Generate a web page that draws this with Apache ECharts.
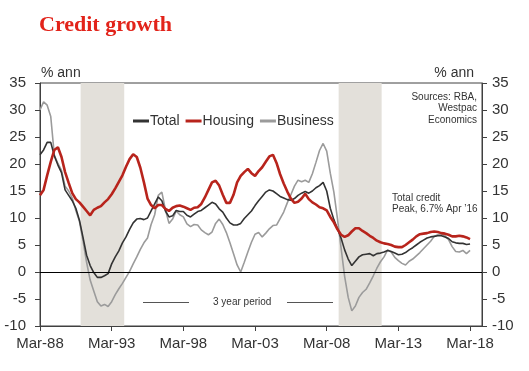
<!DOCTYPE html>
<html>
<head>
<meta charset="utf-8">
<script src="https://cdn.jsdelivr.net/npm/echarts@6/dist/echarts.min.js"></script>
<style>
html,body{margin:0;padding:0;background:#fff;}
#chart{width:529px;height:371px;}
</style>
</head>
<body>
<div id="chart"></div>
<script>
// Quarterly observations starting Mar-88 (month index 0 = Mar 1988)
const tickLabels = ['Mar-88','Mar-93','Mar-98','Mar-03','Mar-08','Mar-13','Mar-18'];
const tickMonths = [0,60,120,180,240,300,360];

const total = [21.7,22.6,24,24,21.5,19.8,18.4,15.2,14.2,13.2,11.8,9.6,6.4,3.1,1.2,-0.1,-1,-1,-0.7,-0.3,
1.5,2.8,3.9,5.4,6.5,7.9,9.1,9.8,9.9,9.7,10,11.3,12.6,13.9,13.2,11.3,10.2,10.4,11.4,11.2,
11.2,10.5,10.2,10.7,11.2,11.4,11.9,12.4,12.9,12.6,11.7,11.1,10,9.1,8.7,8.7,9,9.9,10.6,11.3,
12.3,13.2,14,14.8,15.2,15,14.5,14,13.7,13.4,13.3,13.6,14.2,14.6,14.9,14.6,15,15.6,16,16.6,
15,11.8,9.7,8,6.3,4.1,2.4,1.2,2,2.8,3.2,3.3,3.4,3,3.4,3.5,3.7,4,3.8,3.5,
3.2,3.3,3.6,4.1,4.5,5,5.5,5.9,6.3,6.5,6.6,6.7,6.7,6.5,6.2,5.6,5.4,5.3,5.3,5.1,5.2];

const housing = [14.2,15.2,17.9,20.4,22.6,23.1,21.3,18.5,16.5,14.6,13.5,12.9,12.1,11.3,10.5,11.5,11.9,12.2,12.9,13.5,
14.4,15.5,16.7,17.9,19.5,20.9,21.8,21.3,19.3,16.6,13.6,12.4,11.8,12.4,12.4,11.7,11.3,11.9,12.2,12.3,
12.1,11.8,11.5,11.9,12,12.6,13.8,15.2,16.6,16.9,16,14.3,12.8,12.8,14.3,16.6,17.8,18.5,19.1,18.3,
17.8,18.7,19.4,20.4,21.4,21.7,20.2,18.1,16.4,14.9,13.6,12.8,13,13.6,14.5,13.5,12.9,12.5,12,11.8,
11.4,10.2,9.2,7.9,6.9,6.5,6.8,7.5,8.1,8.1,7.6,7.2,6.7,6.3,5.8,5.5,5.3,5.2,5,4.7,
4.6,4.6,5,5.5,6,6.6,7,7.1,7.2,7.4,7.5,7.4,7.2,7.1,6.9,6.6,6.6,6.7,6.6,6.4,6.1];

const business = [30,31.5,30.9,28.8,21.6,20.1,18.8,15.9,15,13.7,11.4,9.4,5.8,1.8,-1.5,-3.5,-5.5,-6.3,-6,-6.4,
-5.5,-4.2,-3.1,-2.1,-1,0.1,1.5,2.8,4.2,5.4,6.3,8.8,10.6,14.2,14.8,11.5,9,9.8,11.3,10.6,
10.2,8.9,8.4,8.8,8.7,7.8,7.3,6.9,7.4,9,9.8,8.8,7.3,5.4,3.4,1.3,0,1.8,3.7,5.5,
7,7.3,6.5,7.2,8,8.6,8.7,9.9,11.1,12.8,14.3,15.9,17,16.7,17,16.6,18.2,20.3,22.5,23.8,
22.4,18.3,14.8,9.9,4.5,-0.8,-4.7,-7.2,-6.3,-4.7,-3.8,-3.2,-2,-0.7,0.7,1.9,2.8,4.1,3.7,2.7,
2.1,1.6,1.3,2,2.4,3,3.6,4.3,5,5.7,6.6,6.9,7,6.7,6,4.7,3.8,3.7,4,3.4,4];

// Shaded 3-year periods (month index from Mar-88)
const shadedPeriods = [[34, 70.5], [250, 286]];

const months = total.map((_, i) => i * 3);
const pair = arr => arr.map((v, i) => [months[i], v]);

const FONT = '"Liberation Sans", Arial, sans-serif';
const AX = '#404040';
const TXT = '#333333';

const chart = echarts.init(document.getElementById('chart'));

const yAxisBase = {
  type: 'value', min: -10, max: 35, interval: 5,
  axisLine: {show: true, lineStyle: {color: AX, width: 1}},
  axisTick: {show: true, length: 5, lineStyle: {color: AX}},
  splitLine: {show: false},
  axisLabel: {fontSize: 15, color: TXT, fontFamily: FONT}
};

chart.setOption({
  animation: false,
  grid: {left: 40, right: 47, top: 83, bottom: 45, show: true, borderColor: AX, borderWidth: 1, backgroundColor: 'transparent'},
  legend: {
    data: ['Total', 'Housing', 'Business'],
    left: 128, top: 109,
    icon: 'rect', itemWidth: 16, itemHeight: 3, itemGap: 6,
    textStyle: {fontSize: 14, color: TXT, fontFamily: FONT, padding: [0, 0, 0, -4]}
  },
  xAxis: {
    type: 'value', min: 0, max: 370, interval: 60,
    axisLine: {show: true, onZero: false, lineStyle: {color: AX}},
    axisTick: {show: true, length: 5, lineStyle: {color: AX}, customValues: tickMonths},
    splitLine: {show: false},
    axisLabel: {
      fontSize: 15, color: TXT, fontFamily: FONT, margin: 10,
      customValues: tickMonths,
      formatter: v => { const i = tickMonths.indexOf(v); return i >= 0 ? tickLabels[i] : ''; }
    }
  },
  yAxis: [
    Object.assign({}, yAxisBase, {position: 'left', axisLabel: Object.assign({}, yAxisBase.axisLabel, {margin: 14})}),
    Object.assign({}, yAxisBase, {position: 'right', axisLabel: Object.assign({}, yAxisBase.axisLabel, {margin: 10})})
  ],
  series: [
    {
      name: 'bg', type: 'line', data: [], z: 1, silent: true,
      markArea: {
        silent: true,
        itemStyle: {color: '#E3E0DA'},
        data: shadedPeriods.map(p => [{xAxis: p[0], yAxis: 35}, {xAxis: p[1], yAxis: -10}])
      },
      markLine: {
        silent: true, symbol: 'none', label: {show: false},
        lineStyle: {color: '#000', width: 1, type: 'solid'},
        data: [{yAxis: 0}]
      }
    },
    {name: 'Business', type: 'line', data: pair(business), showSymbol: false, z: 3,
     lineStyle: {color: '#9B9B9B', width: 1.6}, itemStyle: {color: '#9B9B9B'}},
    {name: 'Total', type: 'line', data: pair(total), showSymbol: false, z: 4,
     lineStyle: {color: '#333333', width: 1.6}, itemStyle: {color: '#333333'}},
    {name: 'Housing', type: 'line', data: pair(housing), showSymbol: false, z: 5,
     lineStyle: {color: '#B8241C', width: 2.6}, itemStyle: {color: '#B8241C'}}
  ],
  graphic: [
    {type: 'text', x: 39, y: 14, style: {text: 'Credit growth', font: 'bold 22px "Liberation Serif", "Times New Roman", serif', fill: '#E2231A'}},
    {type: 'text', x: 41, y: 66, style: {text: '% ann', font: '14px ' + FONT, fill: TXT}},
    {type: 'text', x: 474, y: 66, style: {text: '% ann', font: '14px ' + FONT, fill: TXT, align: 'right'}},
    {type: 'text', x: 477, y: 91, style: {text: 'Sources: RBA,\nWestpac\nEconomics', font: '10px ' + FONT, fill: TXT, align: 'right', lineHeight: 11.7}},
    {type: 'text', x: 392, y: 192, style: {text: 'Total credit\nPeak, 6.7% Apr \u201916', font: '10px ' + FONT, fill: TXT, lineHeight: 11.5}},
    {type: 'text', x: 213, y: 297, style: {text: '3 year period', font: '10px ' + FONT, fill: TXT}},
    {type: 'line', shape: {x1: 143, y1: 302.5, x2: 189, y2: 302.5}, style: {stroke: '#555', lineWidth: 1}},
    {type: 'line', shape: {x1: 287, y1: 302.5, x2: 333, y2: 302.5}, style: {stroke: '#555', lineWidth: 1}}
  ]
});
</script>
</body>
</html>
